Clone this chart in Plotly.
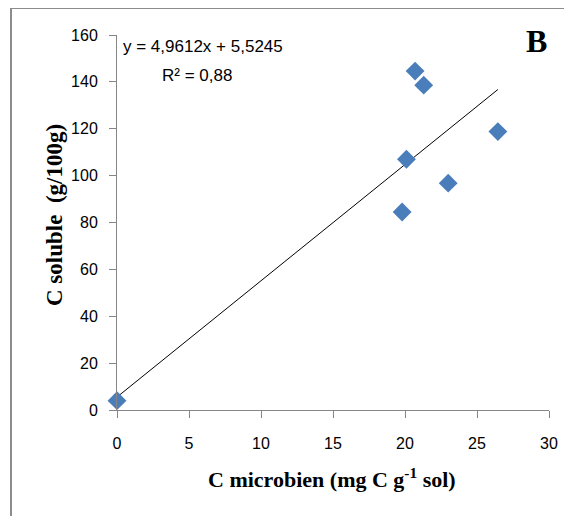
import plotly.graph_objects as go

# Data
c_microbien = [0.0, 19.8, 20.1, 20.7, 21.3, 23.0, 26.45]
c_soluble = [4.0, 84.5, 107.0, 144.6, 138.6, 96.8, 118.8]

slope = 4.9612
intercept = 5.5245
r2_text = "0,88"

x_ticks = [0, 5, 10, 15, 20, 25, 30]
y_ticks = [0, 20, 40, 60, 80, 100, 120, 140, 160]

trend_x = [0.0, max(c_microbien)]
trend_y = [slope * v + intercept for v in trend_x]

TICK_FONT = "Liberation Sans Narrow, Liberation Sans, Arial, sans-serif"
SERIF = "Liberation Serif, Times New Roman, serif"
AXIS_GRAY = "#868686"

fig = go.Figure()
fig.add_trace(go.Scatter(
    x=trend_x, y=trend_y, mode="lines",
    line=dict(color="black", width=1), showlegend=False, hoverinfo="skip",
))
fig.add_trace(go.Scatter(
    x=c_microbien, y=c_soluble, mode="markers",
    marker=dict(symbol="diamond", size=14.5, color="#4A7EBB"),
    cliponaxis=False, showlegend=False,
))

# page body adds an 8px offset; all pixel positions below are in page coords
OFF = 8
W, H = 572 - OFF, 516 - OFF
L, R, T, B = 117 - OFF, 23, 35 - OFF, 106
pw, ph = W - L - R, H - T - B


def px(x):
    return (x - OFF - L) / pw


def py(y):
    return (H - B - (y - OFF)) / ph


fig.update_layout(
    width=W, height=H,
    margin=dict(l=L, r=R, t=T, b=B),
    paper_bgcolor="white", plot_bgcolor="white",
    xaxis=dict(
        range=[0, 30], tickvals=x_ticks, ticktext=[str(v) for v in x_ticks],
        showgrid=False, zeroline=False, showline=True, linecolor=AXIS_GRAY,
        linewidth=1, ticks="outside", ticklen=7, tickcolor=AXIS_GRAY,
        tickfont=dict(family=TICK_FONT, size=16, color="black"),
        ticklabelstandoff=12,
    ),
    yaxis=dict(
        range=[0, 160], tickvals=y_ticks, ticktext=[str(v) for v in y_ticks],
        showgrid=False, zeroline=False, showline=True, linecolor=AXIS_GRAY,
        linewidth=1, ticks="outside", ticklen=7, tickcolor=AXIS_GRAY,
        tickfont=dict(family=TICK_FONT, size=16, color="black"),
        ticklabelstandoff=8,
    ),
    annotations=[
        dict(text=f"y = {str(slope).replace('.', ',')}x + {str(intercept).replace('.', ',')}",
             xref="paper", yref="paper", x=px(121), y=py(46), xanchor="left",
             yanchor="middle", showarrow=False,
             font=dict(family=TICK_FONT, size=17, color="black")),
        dict(text=f"R² = {r2_text}",
             xref="paper", yref="paper", x=px(197), y=py(75), xanchor="center",
             yanchor="middle", showarrow=False,
             font=dict(family=TICK_FONT, size=17, color="black")),
        dict(text="<b>B</b>", xref="paper", yref="paper", x=px(536), y=py(41),
             xanchor="center", yanchor="middle", showarrow=False,
             font=dict(family=SERIF, size=32, color="black")),
        dict(text="<b>C microbien (mg C g<sup>-1</sup> sol)</b>", xref="paper",
             yref="paper", x=px(332), y=py(478), xanchor="center",
             yanchor="middle", showarrow=False,
             font=dict(family=SERIF, size=22, color="black")),
        dict(text="<b>C soluble&nbsp; (g/100g)</b>", xref="paper", yref="paper",
             x=px(54), y=py(215), xanchor="center", yanchor="middle",
             textangle=-90, showarrow=False,
             font=dict(family=SERIF, size=23, color="black")),
    ],
    shapes=[
        dict(type="line", xref="paper", yref="paper", x0=px(11), x1=px(572),
             y0=py(8), y1=py(8), line=dict(color="#8C8C8C", width=2)),
        dict(type="line", xref="paper", yref="paper", x0=px(11), x1=px(11),
             y0=py(8), y1=py(516), line=dict(color="#8C8C8C", width=2)),
    ],
)

fig.write_html("out.html")
